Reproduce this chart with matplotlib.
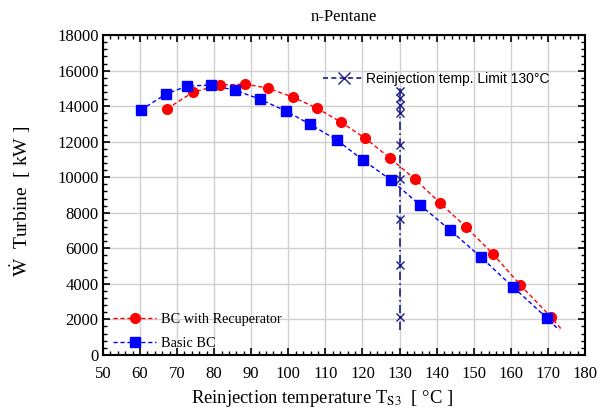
import matplotlib
matplotlib.use("Agg")
import matplotlib.pyplot as plt
from matplotlib.ticker import MultipleLocator, AutoMinorLocator
from matplotlib.lines import Line2D

plt.rcParams["mathtext.fontset"] = "stix"

title = "n-Pentane"
rec_T = [67.3, 74.3, 81.5, 88.3, 94.5, 101.2, 107.7, 114.2, 120.7, 127.4, 134.1, 140.9, 147.9, 155.2, 162.5, 170.8]
rec_W = [13850, 14790, 15190, 15240, 15020, 14510, 13890, 13100, 12200, 11080, 9900, 8550, 7200, 5680, 3940, 2140]
rec_T_line = rec_T + [173.8]
rec_W_line = rec_W + [1400]

bas_T = [60.2, 67.0, 72.7, 79.1, 85.6, 92.3, 99.4, 105.8, 113.1, 120.1, 127.7, 135.5, 143.6, 151.9, 160.6, 169.7]
bas_W = [13780, 14680, 15130, 15190, 14900, 14400, 13720, 12990, 12090, 10970, 9840, 8440, 7030, 5510, 3820, 2080]
bas_T_line = bas_T + [173.0]
bas_W_line = bas_W + [1400]

lim_T = 130
lim_W = [1400, 2140, 5060, 7650, 9900, 11800, 13600, 14060, 14450, 14850, 15000]

serif = ["Liberation Serif", "DejaVu Serif"]
sans = ["Liberation Sans", "DejaVu Sans"]

fig = plt.figure(figsize=(6.05, 4.18), dpi=100)
ax = fig.add_axes([0.170, 0.151, 0.797, 0.765])

ax.plot(rec_T_line, rec_W_line, color="red", ls=(0, (3, 2)), lw=1.0, zorder=3)
ax.plot(rec_T, rec_W, ls="none", marker="o", ms=7, color="red", zorder=4)
ax.plot(bas_T_line, bas_W_line, color="blue", ls=(0, (3, 2)), lw=1.0, zorder=3)
ax.plot(bas_T, bas_W, ls="none", marker="s", ms=7, color="blue", zorder=4)

navy = "#1c1c8a"
ax.plot([lim_T] * len(lim_W), lim_W, color=navy, ls=(0, (5, 2, 1, 2)), lw=1.2,
        marker="x", ms=6, mew=1.0, markevery=list(range(1, len(lim_W) - 1)), zorder=5)

h1 = Line2D([], [], color="red", ls=(0, (3, 2)), marker="o", ms=7, lw=1)
h2 = Line2D([], [], color="blue", ls=(0, (3, 2)), marker="s", ms=7, lw=1)
leg1 = ax.legend([h1, h2], ["BC with Recuperator", "Basic BC"], loc="lower left",
                 bbox_to_anchor=(-0.005, -0.025), frameon=False, prop={"family": serif, "size": 10.3},
                 handlelength=3, handletextpad=0.3, labelspacing=0.75)
ax.add_artist(leg1)
h3 = Line2D([], [], color=navy, ls=(0, (3, 2)), marker="x", ms=8, lw=1.2)
ax.legend([h3], ["Reinjection temp. Limit 130\u00b0C"], loc="upper left",
          bbox_to_anchor=(0.43, 0.925), frameon=False, prop={"family": sans, "size": 10},
          handlelength=3, handletextpad=0.1)

ax.set_xlim(50, 180)
ax.set_ylim(0, 18000)
ax.xaxis.set_major_locator(MultipleLocator(10))
ax.yaxis.set_major_locator(MultipleLocator(2000))
ax.xaxis.set_minor_locator(AutoMinorLocator(5))
ax.yaxis.set_minor_locator(AutoMinorLocator(5))
ax.tick_params(which="both", direction="in", top=True, right=True)
ax.tick_params(which="major", length=5, width=1.2, labelsize=12)
ax.tick_params(which="minor", length=3, width=1.0)
ax.tick_params(axis="y", which="major", pad=3)
ax.tick_params(axis="x", which="major", pad=8)
for lab in ax.get_xticklabels() + ax.get_yticklabels():
    lab.set_family(serif)
ax.grid(True, which="major", color="#d0d0d0", lw=1.0)
ax.set_axisbelow(True)
for s in ax.spines.values():
    s.set_linewidth(1.5)

ax.set_title(title, family=serif, fontsize=12, pad=10)
ax.set_xlabel(r"Reinjection temperature T$_{\mathrm{S3}}$  [ °C ]", family=serif, fontsize=13.4)
ax.set_ylabel(r"$\dot{\mathrm{W}}$  Turbine  [ kW ]", family=serif, fontsize=14)
ax.xaxis.set_label_coords(0.454, -0.103)
ax.yaxis.set_label_coords(-0.145, 0.481)

fig.savefig("out.png", dpi=100)
